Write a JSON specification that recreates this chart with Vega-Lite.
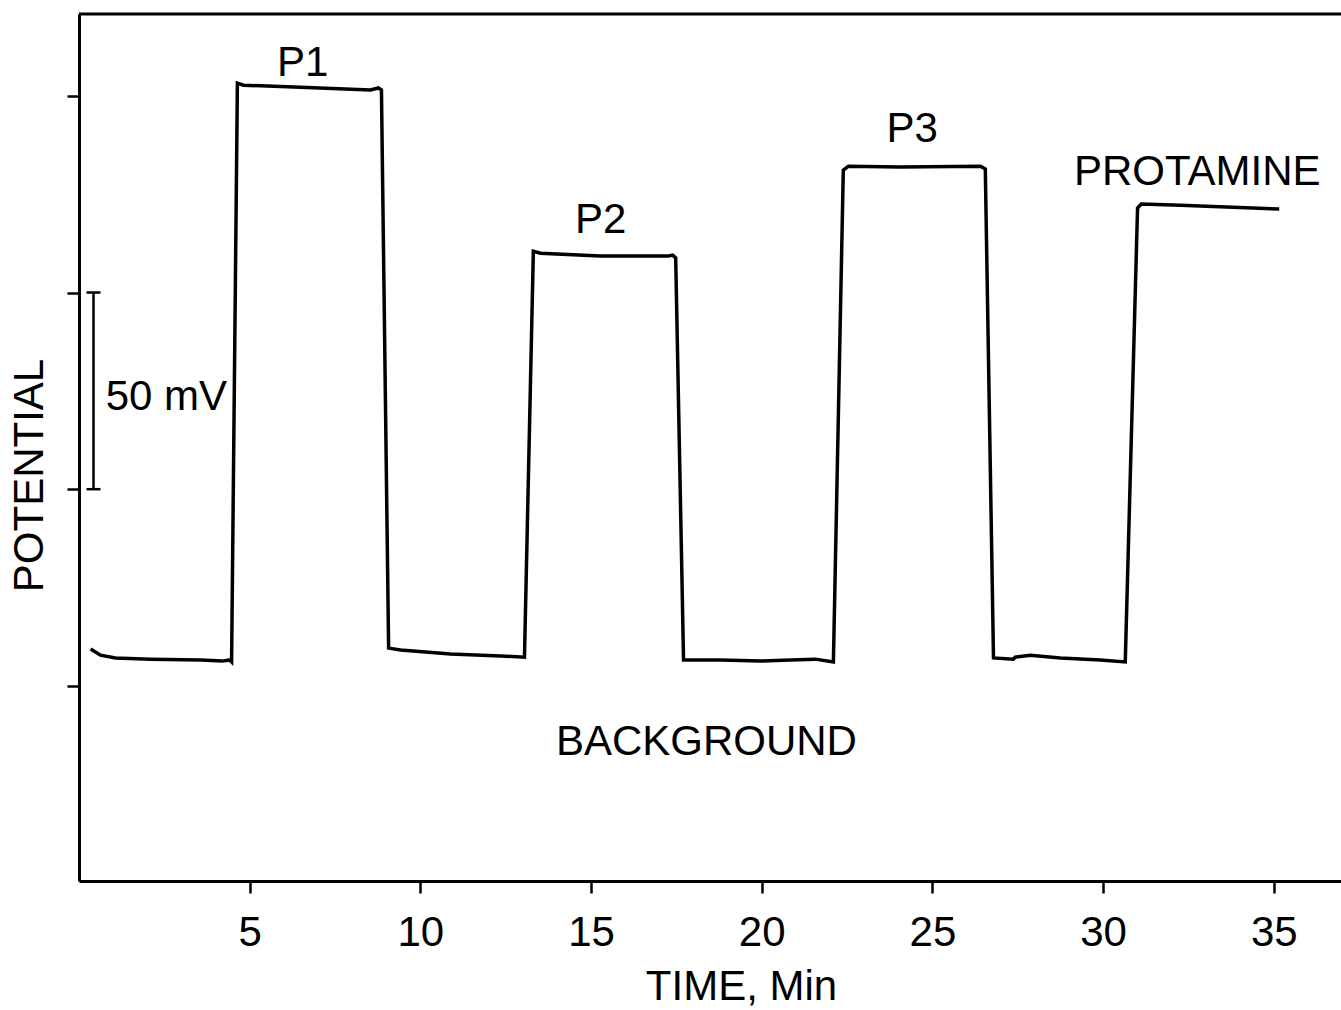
{
  "$schema": "https://vega.github.io/schema/vega-lite/v6.json",
  "width": 1262,
  "height": 867,
  "autosize": {"type": "none"},
  "padding": {"left": 79, "top": 14, "right": 0, "bottom": 129},
  "background": "white",
  "config": {
    "view": {"stroke": null},
    "font": "Liberation Sans",
    "axis": {
      "domainColor": "black", "domainWidth": 3, "tickColor": "black", "tickWidth": 2.5,
      "grid": false, "labelFont": "Liberation Sans", "titleFont": "Liberation Sans",
      "labelColor": "black", "titleColor": "black", "titleFontWeight": "normal"
    }
  },
  "datasets": {
    "trace": [
      {"t": 0.34, "v": 59.0}, {"t": 0.63, "v": 57.4}, {"t": 1.07, "v": 56.7}, {"t": 2.09, "v": 56.4},
      {"t": 3.56, "v": 56.2}, {"t": 4.2, "v": 55.9}, {"t": 4.41, "v": 56.2}, {"t": 4.47, "v": 55.7},
      {"t": 4.64, "v": 202.8}, {"t": 4.82, "v": 202.3}, {"t": 6.49, "v": 201.8}, {"t": 8.54, "v": 201.1},
      {"t": 8.77, "v": 201.6}, {"t": 8.86, "v": 201.1}, {"t": 9.07, "v": 59.2}, {"t": 9.42, "v": 58.7},
      {"t": 10.88, "v": 57.7}, {"t": 12.35, "v": 57.2}, {"t": 13.05, "v": 56.9},
      {"t": 13.31, "v": 160.1}, {"t": 13.52, "v": 159.6}, {"t": 15.27, "v": 158.9}, {"t": 17.27, "v": 158.9},
      {"t": 17.39, "v": 159.1}, {"t": 17.48, "v": 158.4}, {"t": 17.71, "v": 56.2}, {"t": 18.79, "v": 56.2},
      {"t": 19.96, "v": 55.9}, {"t": 20.84, "v": 56.2}, {"t": 21.57, "v": 56.4}, {"t": 22.1, "v": 55.7},
      {"t": 22.39, "v": 180.7}, {"t": 22.54, "v": 181.7}, {"t": 24.06, "v": 181.5}, {"t": 26.41, "v": 181.7},
      {"t": 26.55, "v": 181.0}, {"t": 26.79, "v": 56.7}, {"t": 27.37, "v": 56.4}, {"t": 27.43, "v": 56.9},
      {"t": 27.87, "v": 57.4}, {"t": 28.75, "v": 56.7}, {"t": 29.92, "v": 56.2}, {"t": 30.65, "v": 55.7},
      {"t": 31.01, "v": 171.1}, {"t": 31.12, "v": 172.1}, {"t": 32.27, "v": 171.8}, {"t": 35.16, "v": 170.8}
    ],
    "labels": [
      {"t": 6.55, "v": 204.6, "text": "P1"},
      {"t": 15.28, "v": 164.7, "text": "P2"},
      {"t": 24.41, "v": 187.8, "text": "P3"},
      {"t": 32.76, "v": 176.9, "text": "PROTAMINE"},
      {"t": 18.38, "v": 32.0, "text": "BACKGROUND"},
      {"t": 2.56, "v": 119.7, "text": "50 mV"}
    ],
    "bar": [{"t": 0.425, "t1": 0.22, "t2": 0.63, "v1": 99.6, "v2": 149.6}],
    "frame": [{"t1": 0, "t2": 36.97, "v": 220.4}]
  },
  "layer": [
    {
      "data": {"name": "trace"},
      "mark": {"type": "line", "color": "black", "strokeWidth": 3.5, "strokeJoin": "miter"},
      "encoding": {
        "x": {
          "field": "t", "type": "quantitative",
          "scale": {"domain": [0, 36.97], "nice": false, "zero": false},
          "axis": {
            "title": "TIME, Min", "values": [5, 10, 15, 20, 25, 30, 35],
            "tickSize": 12, "labelFontSize": 42, "labelPadding": 19,
            "titleFontSize": 42, "titlePadding": 13, "titleX": 662
          }
        },
        "y": {
          "field": "v", "type": "quantitative",
          "scale": {"domain": [0, 220.4], "nice": false, "zero": false},
          "axis": {
            "title": "POTENTIAL", "values": [49.6, 99.6, 149.6, 199.6], "labels": false,
            "tickSize": 12, "titleFontSize": 42, "titlePadding": 14, "titleY": 461
          }
        }
      }
    },
    {
      "data": {"name": "labels"},
      "mark": {"type": "text", "fontSize": 42, "color": "black", "baseline": "alphabetic", "align": "center", "font": "Liberation Sans"},
      "encoding": {
        "x": {"field": "t", "type": "quantitative"},
        "y": {"field": "v", "type": "quantitative"},
        "text": {"field": "text"}
      }
    },
    {
      "data": {"name": "bar"},
      "mark": {"type": "rule", "color": "black", "strokeWidth": 2.5},
      "encoding": {
        "x": {"field": "t", "type": "quantitative"},
        "y": {"field": "v1", "type": "quantitative"},
        "y2": {"field": "v2"}
      }
    },
    {
      "data": {"name": "bar"},
      "mark": {"type": "rule", "color": "black", "strokeWidth": 2.5},
      "encoding": {
        "x": {"field": "t1", "type": "quantitative"},
        "x2": {"field": "t2"},
        "y": {"field": "v1", "type": "quantitative"}
      }
    },
    {
      "data": {"name": "bar"},
      "mark": {"type": "rule", "color": "black", "strokeWidth": 2.5},
      "encoding": {
        "x": {"field": "t1", "type": "quantitative"},
        "x2": {"field": "t2"},
        "y": {"field": "v2", "type": "quantitative"}
      }
    },
    {
      "data": {"name": "frame"},
      "mark": {"type": "rule", "color": "black", "strokeWidth": 3},
      "encoding": {
        "x": {"field": "t1", "type": "quantitative"},
        "x2": {"field": "t2"},
        "y": {"field": "v", "type": "quantitative"}
      }
    }
  ]
}
